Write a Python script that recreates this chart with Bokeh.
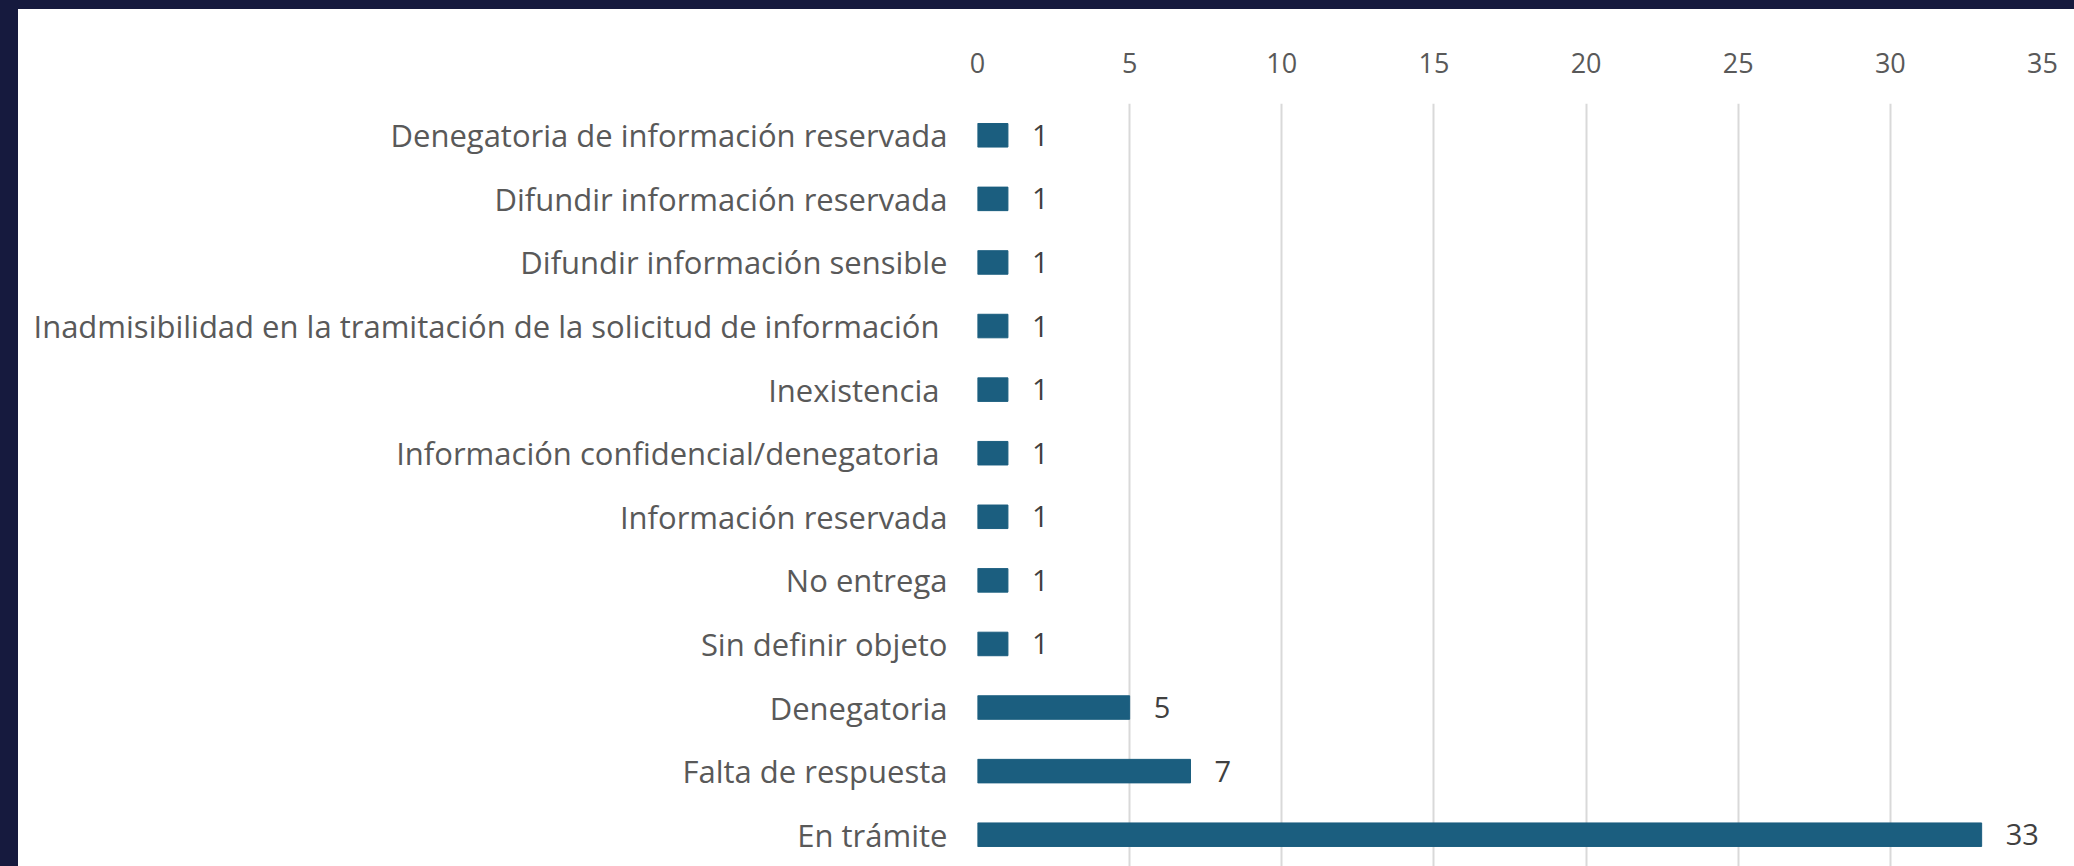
from bokeh.plotting import figure
from bokeh.models import ColumnDataSource, FactorRange, Range1d, Div, FixedTicker
from bokeh.layouts import row, column
from bokeh.core.properties import value
from bokeh.embed import file_html
from bokeh.resources import INLINE

categories = [
    "Denegatoria de información reservada",
    "Difundir información reservada",
    "Difundir información sensible",
    "Inadmisibilidad en la tramitación de la solicitud de información ",
    "Inexistencia ",
    "Información confidencial/denegatoria ",
    "Información reservada",
    "No entrega",
    "Sin definir objeto",
    "Denegatoria",
    "Falta de respuesta",
    "En trámite",
]
counts = [1, 1, 1, 1, 1, 1, 1, 1, 1, 5, 7, 33]
x_ticks = [0, 5, 10, 15, 20, 25, 30, 35]

DARK = "#161A3E"
BAR = "#1B5E7F"
FONT = "Open Sans"

src = ColumnDataSource(dict(cat=categories, val=counts, lab=[str(v) for v in counts]))

p = figure(
    width=2056, height=857,
    y_range=FactorRange(factors=categories[::-1]),
    x_range=Range1d(0, 35),
    x_axis_location="above",
    output_backend="svg", toolbar_location=None,
    min_border_left=959, min_border_right=32, min_border_top=94, min_border_bottom=0,
)
p.outline_line_color = None
p.background_fill_color = "white"
p.border_fill_color = "white"

p.hbar(y="cat", right="val", left=0, height=0.37, source=src, color=BAR)
p.text(x="val", y="cat", text="lab", source=src, x_offset=24, text_baseline="middle",
       text_align="left", text_font=value(FONT), text_font_size="29px", text_color="#404040")

xa = p.xaxis[0]
xa.ticker = FixedTicker(ticks=x_ticks)
xa.axis_line_color = None
xa.major_tick_line_color = None
xa.minor_tick_line_color = None
xa.major_tick_out = 0
xa.major_tick_in = 0
xa.major_label_standoff = 31
xa.major_label_text_font = FONT
xa.major_label_text_font_size = "27px"
xa.major_label_text_color = "#595959"

ya = p.yaxis[0]
ya.axis_line_color = None
ya.major_tick_line_color = None
ya.major_tick_out = 0
ya.major_tick_in = 0
ya.major_label_standoff = 30
ya.major_label_text_font = FONT
ya.major_label_text_font_size = "31px"
ya.major_label_text_color = "#595959"

p.ygrid.grid_line_color = None
p.xgrid.grid_line_color = "#D9D9D9"
p.xgrid.grid_line_width = 2
p.xgrid.ticker = FixedTicker(ticks=x_ticks)

left = Div(width=18, height=866, margin=0, styles={"background-color": DARK})
top = Div(width=2056, height=9, margin=0, styles={"background-color": DARK})
layout = row(left, column(top, p))

open("out.html", "w").write(file_html(layout, INLINE))
